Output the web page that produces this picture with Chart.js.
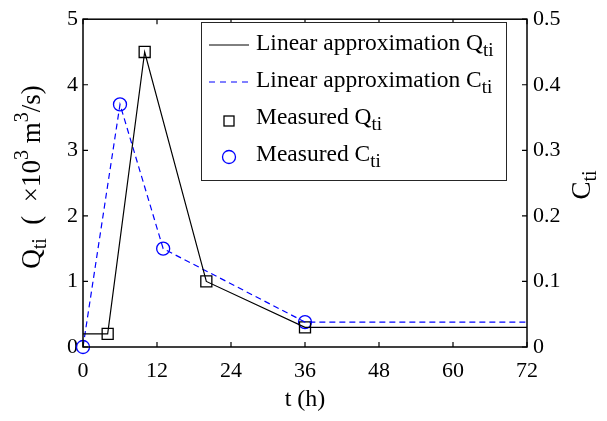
<!DOCTYPE html>
<html>
<head>
<meta charset="utf-8">
<script src="https://cdn.jsdelivr.net/npm/chart.js@4.4.1/dist/chart.umd.min.js"></script>
<style>
  body { margin: 0; background: #fff; }
  canvas { display: block; }
</style>
</head>
<body>
<canvas id="chart" width="607" height="421"></canvas>
<script>
// Data
const qLineT = [0, 4, 10, 20, 36, 72];
const qLineV = [0.2, 0.2, 4.5, 1.0, 0.3, 0.3];
const cLineT = [0, 6, 13, 36, 72];
const cLineV = [0, 0.37, 0.15, 0.038, 0.038];
const qMeasT = [4, 10, 20, 36];
const qMeasV = [0.2, 4.5, 1.0, 0.3];
const cMeasT = [0, 6, 13, 36];
const cMeasV = [0, 0.37, 0.15, 0.038];
const xTicks = [0, 12, 24, 36, 48, 60, 72];

const SERIF = "'Liberation Serif', 'Times New Roman', serif";
const BLUE = "#0000ff";

function pts(xs, ys) {
  return xs.map((x, i) => ({ x: x, y: ys[i] }));
}

// text runs with sub/superscripts
function richWidth(ctx, parts) {
  let w = 0;
  parts.forEach(p => {
    ctx.font = p.size + "px " + SERIF;
    w += ctx.measureText(p.t).width;
  });
  return w;
}
function drawRich(ctx, parts, x, y) {
  parts.forEach(p => {
    ctx.font = p.size + "px " + SERIF;
    ctx.fillText(p.t, x, y + (p.dy || 0));
    x += ctx.measureText(p.t).width;
  });
}

const frameAndText = {
  id: "frameAndText",
  afterDraw(chart) {
    const ctx = chart.ctx;
    const a = chart.chartArea;
    const sx = chart.scales.x, sy = chart.scales.y, sy1 = chart.scales.y1;
    ctx.save();
    ctx.strokeStyle = "#000";
    ctx.fillStyle = "#000";
    ctx.lineWidth = 1.5;
    ctx.strokeRect(a.left, a.top, a.right - a.left, a.bottom - a.top);

    // ticks pointing inwards
    ctx.lineWidth = 1.2;
    ctx.beginPath();
    xTicks.forEach(t => {
      const px = sx.getPixelForValue(t);
      ctx.moveTo(px, a.bottom); ctx.lineTo(px, a.bottom - 5);
      ctx.moveTo(px, a.top); ctx.lineTo(px, a.top + 5);
    });
    sy.ticks.forEach(t => {
      const py = sy.getPixelForValue(t.value);
      ctx.moveTo(a.left, py); ctx.lineTo(a.left + 5, py);
    });
    sy1.ticks.forEach(t => {
      const py = sy1.getPixelForValue(t.value);
      ctx.moveTo(a.right, py); ctx.lineTo(a.right - 5, py);
    });
    ctx.stroke();

    ctx.textAlign = "left";
    ctx.textBaseline = "alphabetic";

    // x title
    const xt = [{ t: "t (h)", size: 24 }];
    drawRich(ctx, xt, (a.left + a.right) / 2 - richWidth(ctx, xt) / 2, 406);

    // left title
    const lt = [
      { t: "Q", size: 27 }, { t: "ti", size: 20, dy: 6 },
      { t: "  (  \u00d710", size: 27 }, { t: "3", size: 20, dy: -12 },
      { t: " m", size: 27 }, { t: "3", size: 20, dy: -12 },
      { t: "/s)", size: 27 }
    ];
    ctx.save();
    ctx.translate(40, 177);
    ctx.rotate(-Math.PI / 2);
    drawRich(ctx, lt, -richWidth(ctx, lt) / 2, 0);
    ctx.restore();

    // right title
    const rt = [{ t: "C", size: 27 }, { t: "ti", size: 20, dy: 6 }];
    ctx.save();
    ctx.translate(590, 185);
    ctx.rotate(-Math.PI / 2);
    drawRich(ctx, rt, -richWidth(ctx, rt) / 2, 0);
    ctx.restore();

    // legend
    const lx = 201, ly = 22, lw = 305, lh = 158;
    ctx.fillStyle = "#fff";
    ctx.fillRect(lx, ly, lw, lh);
    ctx.strokeStyle = "#262626";
    ctx.lineWidth = 1;
    ctx.strokeRect(lx + 0.5, ly + 0.5, lw, lh);

    const rows = [
      [{ t: "Linear approximation Q", size: 23.5 }, { t: "ti", size: 19, dy: 6 }],
      [{ t: "Linear approximation C", size: 23.5 }, { t: "ti", size: 19, dy: 6 }],
      [{ t: "Measured Q", size: 23.5 }, { t: "ti", size: 19, dy: 6 }],
      [{ t: "Measured C", size: 23.5 }, { t: "ti", size: 19, dy: 6 }]
    ];
    const baselines = [50, 87, 124, 161];
    ctx.fillStyle = "#000";
    rows.forEach((r, i) => drawRich(ctx, r, 256, baselines[i]));

    // legend samples
    ctx.lineWidth = 1;
    ctx.strokeStyle = "#000";
    ctx.beginPath(); ctx.moveTo(209, 45); ctx.lineTo(249, 45); ctx.stroke();
    ctx.strokeStyle = BLUE;
    ctx.setLineDash([6, 5]);
    ctx.beginPath(); ctx.moveTo(209, 82); ctx.lineTo(249, 82); ctx.stroke();
    ctx.setLineDash([]);
    ctx.lineWidth = 1.3;
    ctx.strokeStyle = "#000";
    ctx.strokeRect(224, 116, 10, 10);
    ctx.strokeStyle = BLUE;
    ctx.beginPath(); ctx.arc(229, 157, 6.5, 0, Math.PI * 2); ctx.stroke();

    ctx.restore();
  }
};

const tickFont = { family: SERIF, size: 22 };

new Chart(document.getElementById("chart"), {
  type: "line",
  data: {
    datasets: [
      {
        label: "Linear approximation Qti",
        data: pts(qLineT, qLineV),
        yAxisID: "y",
        borderColor: "#000",
        borderWidth: 1.2,
        pointRadius: 0,
        fill: false,
        tension: 0
      },
      {
        label: "Linear approximation Cti",
        data: pts(cLineT, cLineV),
        yAxisID: "y1",
        borderColor: BLUE,
        borderWidth: 1.2,
        borderDash: [6, 4],
        pointRadius: 0,
        fill: false,
        tension: 0
      },
      {
        label: "Measured Qti",
        data: pts(qMeasT, qMeasV),
        yAxisID: "y",
        showLine: false,
        clip: false,
        pointStyle: "rect",
        pointRadius: 7.8,
        pointBorderWidth: 1.3,
        pointBorderColor: "#000",
        pointBackgroundColor: "rgba(0,0,0,0)"
      },
      {
        label: "Measured Cti",
        data: pts(cMeasT, cMeasV),
        yAxisID: "y1",
        showLine: false,
        clip: false,
        pointStyle: "circle",
        pointRadius: 6.5,
        pointBorderWidth: 1.3,
        pointBorderColor: BLUE,
        pointBackgroundColor: "rgba(0,0,0,0)"
      }
    ]
  },
  options: {
    responsive: false,
    animation: false,
    layout: { padding: { top: 15, left: 0, right: 0, bottom: 0 } },
    plugins: {
      legend: { display: false },
      tooltip: { enabled: false }
    },
    scales: {
      x: {
        type: "linear",
        min: 0,
        max: 72,
        afterBuildTicks: (s) => { s.ticks = xTicks.map(v => ({ value: v })); },
        afterFit: (s) => { s.height = 74; },
        grid: { display: false, drawTicks: false, tickLength: 0 },
        border: { display: false },
        ticks: { font: tickFont, color: "#000", padding: 11, maxRotation: 0 }
      },
      y: {
        position: "left",
        min: 0,
        max: 5,
        afterFit: (s) => { s.width = 83; },
        grid: { display: false, drawTicks: false, tickLength: 0 },
        border: { display: false },
        ticks: { stepSize: 1, font: tickFont, color: "#000", padding: 5 }
      },
      y1: {
        position: "right",
        min: 0,
        max: 0.5,
        afterFit: (s) => { s.width = 80; },
        grid: { display: false, drawTicks: false, tickLength: 0 },
        border: { display: false },
        ticks: { stepSize: 0.1, font: tickFont, color: "#000", padding: 6 }
      }
    }
  },
  plugins: [frameAndText]
});
</script>
</body>
</html>
